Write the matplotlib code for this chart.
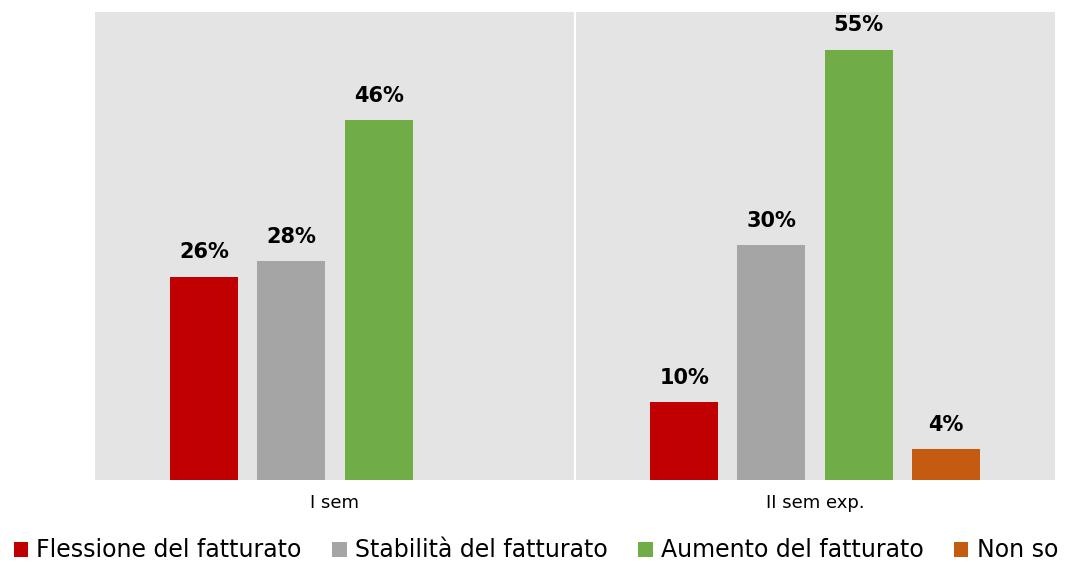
import numpy as np
import matplotlib.pyplot as plt

plt.rcParams['font.family'] = ['DejaVu Sans']

periods = ['I sem', 'II sem exp.']
series = ['Flessione del fatturato', 'Stabilità del fatturato',
          'Aumento del fatturato', 'Non so']
flessione = [26, 10]
stabilita = [28, 30]
aumento = [46, 55]
non_so = [np.nan, 4]
colors = ['#C00000', '#A5A5A5', '#70AD47', '#C55A11']

fig = plt.figure(figsize=(10.72, 5.64), dpi=100)
ax = fig.add_axes([95 / 1072, 84 / 564, 960 / 1072, 468 / 564])
ax.set_facecolor('#E4E4E4')

x = np.arange(len(periods))
pitch = 0.1816
width = 0.142
for i, (name, vals, c) in enumerate(zip(series, [flessione, stabilita, aumento, non_so], colors)):
    pos = x + (i - 1.5) * pitch
    ax.bar(pos, vals, width=width, color=c, label=name, zorder=2)
    for p, v in zip(pos, vals):
        if not np.isnan(v):
            ax.text(p, v + 1.8, '%d%%' % v, ha='center', va='bottom',
                    fontsize=15, fontweight='bold', color='black')

ax.axvline(0.5, color='white', lw=1.5, zorder=1)
ax.set_xlim(-0.5, 1.5)
ax.set_ylim(0, 59.8)
ax.set_yticks([])
ax.set_xticks(x)
ax.set_xticklabels(periods, fontsize=13)
ax.tick_params(axis='x', length=0, pad=10)
for s in ax.spines.values():
    s.set_visible(False)

fig.legend(loc='lower center', bbox_to_anchor=(0.5, -0.035), ncol=4, frameon=False,
           fontsize=17, handlelength=0.6, handleheight=0.6, handletextpad=0.35,
           columnspacing=1.3)

fig.savefig('out.png', dpi=100)
